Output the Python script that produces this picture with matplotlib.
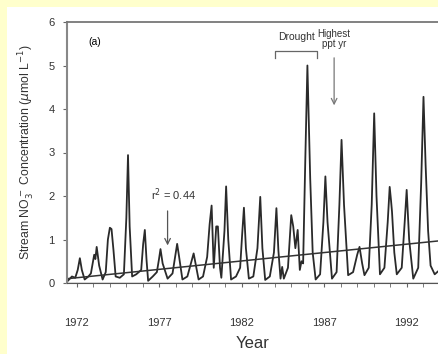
import matplotlib
matplotlib.use("Agg")
import matplotlib.pyplot as plt
from matplotlib.patches import Rectangle

plt.rcParams['font.family'] = ['Liberation Sans', 'DejaVu Sans']

# stream nitrate series (decimal year, umol/L)
years = [1971.45, 1971.7, 1971.9, 1972.05, 1972.18, 1972.3, 1972.47, 1972.7, 1972.85,
         1972.96, 1973.05, 1973.12, 1973.2, 1973.35, 1973.56, 1973.75, 1973.88, 1974.0,
         1974.1, 1974.22, 1974.35, 1974.6, 1974.85, 1975.0, 1975.1, 1975.2, 1975.35,
         1975.6, 1975.9, 1976.02, 1976.12, 1976.22, 1976.32, 1976.6, 1976.85, 1976.98,
         1977.07, 1977.2, 1977.5, 1977.8, 1977.98, 1978.08, 1978.2, 1978.4, 1978.7,
         1978.95, 1979.08, 1979.22, 1979.38, 1979.65, 1979.9, 1980.05, 1980.17, 1980.3,
         1980.45, 1980.55, 1980.68, 1980.76, 1980.95, 1981.05, 1981.18, 1981.35, 1981.65,
         1981.9, 1982.02, 1982.13, 1982.25, 1982.43, 1982.7, 1982.95, 1983.12, 1983.25,
         1983.42, 1983.7, 1983.95, 1984.1, 1984.22, 1984.35, 1984.45, 1984.55, 1984.8,
         1984.92, 1985.0, 1985.12, 1985.25, 1985.39, 1985.52, 1985.62, 1985.72, 1985.85,
         1985.98, 1986.15, 1986.3, 1986.48, 1986.75, 1986.95, 1987.07, 1987.2, 1987.47,
         1987.75, 1987.92, 1988.05, 1988.2, 1988.45, 1988.75, 1989.0, 1989.14, 1989.3,
         1989.44, 1989.7, 1989.88, 1990.03, 1990.17, 1990.38, 1990.65, 1990.85, 1990.97,
         1991.05, 1991.11, 1991.25, 1991.4, 1991.7, 1991.88, 1992.0, 1992.15, 1992.4,
         1992.7, 1992.88, 1993.02, 1993.15, 1993.3, 1993.45, 1993.7, 1994.0]
no3 = [0.05, 0.15, 0.12, 0.3, 0.57, 0.3, 0.08, 0.15, 0.22,
       0.45, 0.65, 0.55, 0.83, 0.4, 0.08, 0.25, 1.0, 1.27,
       1.24, 0.75, 0.15, 0.12, 0.2, 1.5, 2.94, 1.3, 0.15,
       0.2, 0.3, 0.9, 1.22, 0.55, 0.05, 0.15, 0.25, 0.55,
       0.78, 0.45, 0.1, 0.22, 0.65, 0.9, 0.6, 0.08, 0.15,
       0.5, 0.68, 0.4, 0.08, 0.15, 0.6, 1.35, 1.78, 0.35,
       1.3, 1.3, 0.35, 0.12, 1.2, 2.22, 1.0, 0.08, 0.15,
       0.35, 1.1, 1.73, 0.8, 0.1, 0.15, 0.8, 1.98, 0.8,
       0.07, 0.15, 0.7, 1.72, 0.75, 0.1, 0.37, 0.1, 0.35,
       1.1, 1.56, 1.3, 0.8, 1.22, 0.3, 0.5, 0.45, 2.8,
       5.0, 2.4, 0.7, 0.08, 0.2, 1.4, 2.45, 1.4, 0.1,
       0.25, 1.8, 3.29, 1.8, 0.18, 0.25, 0.65, 0.83, 0.45,
       0.18, 0.35, 1.8, 3.9, 2.0, 0.2, 0.35, 1.4, 2.21,
       1.9, 1.64, 0.7, 0.2, 0.35, 1.4, 2.14, 1.0, 0.1,
       0.35, 2.3, 4.28, 2.7, 1.2, 0.4, 0.2, 0.3]

# regression line end points
trend_x = [1971.45, 1994.0]
trend_y = [0.1, 0.97]

year_ticks = [1972, 1977, 1982, 1987, 1992]
minor_years = list(range(1972, 1994))

fig = plt.figure(figsize=(4.38, 3.54), dpi=100, facecolor='#FFFFCC')
fig.patches.append(Rectangle((7 / 438, 0), 1, (354 - 7) / 354, transform=fig.transFigure,
                             facecolor='white', edgecolor='none', zorder=-10))

ax = fig.add_axes([67 / 438, 71 / 354, (438 - 67) / 438, 261 / 354])
ax.set_facecolor('white')
ax.plot(years, no3, color='#2a2a2a', lw=1.3)
ax.plot(trend_x, trend_y, color='#333333', lw=1.1)
ax.axhline(0, color='#555555', lw=1.0)

ax.set_xlim(1971.4, 1993.9)
ax.set_ylim(0, 6)
ax.set_xticks(year_ticks)
ax.set_xticks(minor_years, minor=True)
ax.set_yticks(range(7))
ax.tick_params(axis='x', which='both', direction='out', length=3, pad=22,
               labelsize=8, color='#666666', labelcolor='#333333')
ax.tick_params(axis='y', direction='out', length=3, labelsize=8, pad=6,
               color='#666666', labelcolor='#333333')
ax.spines['right'].set_visible(False)
ax.spines['left'].set_color('#888888')
ax.spines['left'].set_linewidth(1.5)
ax.spines['top'].set_color('#777777')
ax.spines['top'].set_linewidth(1.3)
ax.spines['bottom'].set_color('#555555')

ax.set_xlabel('Year', fontsize=12, labelpad=6, color='#333333')
ax.set_ylabel(r'Stream NO$_3^-$ Concentration ($\mu$mol L$^{-1}$)', fontsize=8.8,
              labelpad=8, color='#333333')

ax.text(1973.1, 5.55, '(a)', fontsize=7.5, ha='center', va='center')
ax.text(1977.85, 2.02, r'r$^2$ = 0.44', fontsize=8, ha='center', va='center', color='#333333')
ax.annotate('', xy=(1977.5, 0.8), xytext=(1977.5, 1.72),
            arrowprops=dict(arrowstyle='->', color='#555555', lw=0.9))

ax.text(1985.3, 5.65, 'Drought', fontsize=7.5, ha='center', va='center', color='#333333')
ax.plot([1984.0, 1984.0, 1986.55, 1986.55], [5.17, 5.33, 5.33, 5.17], color='#666666', lw=0.9)

ax.text(1987.6, 5.6, 'Highest\nppt yr', fontsize=7, ha='center', va='center',
        color='#333333', linespacing=1.0)
ax.annotate('', xy=(1987.6, 4.02), xytext=(1987.6, 5.24),
            arrowprops=dict(arrowstyle='->', color='#777777', lw=0.9))

fig.savefig('out.png', dpi=100, facecolor=fig.get_facecolor())
